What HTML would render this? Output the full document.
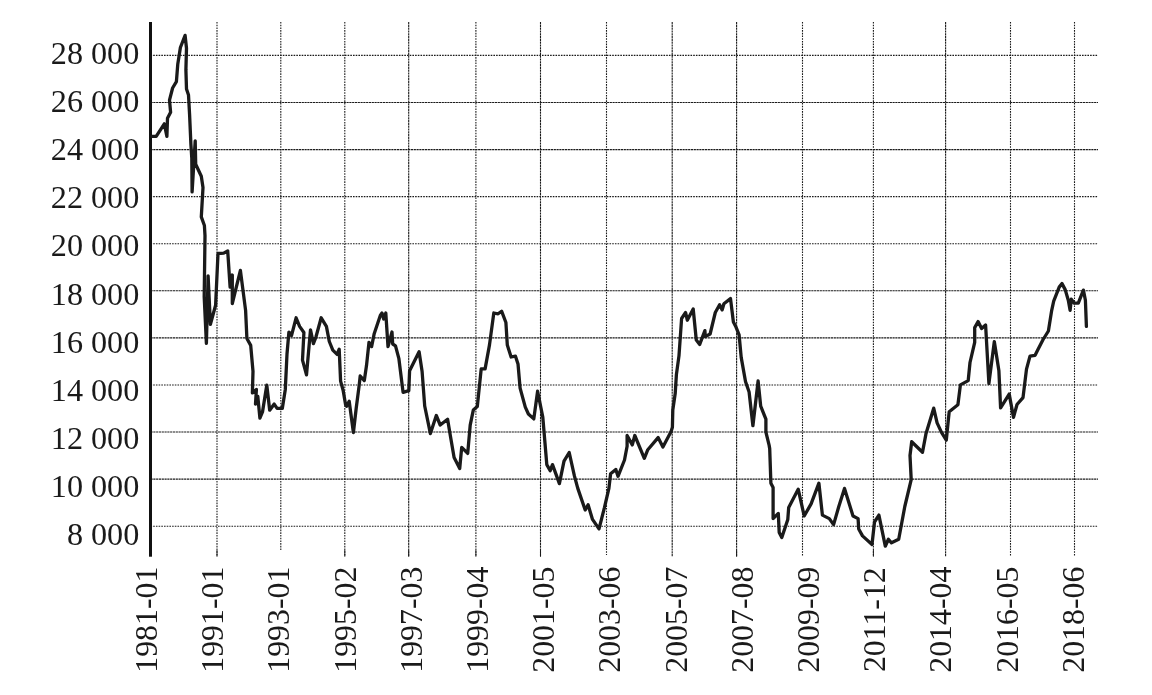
<!DOCTYPE html><html><head><meta charset="utf-8"><title>Chart</title><style>html,body{margin:0;padding:0;background:#fff;width:1152px;height:695px;overflow:hidden;}svg{display:block;position:absolute;left:0;top:0;}text{font-family:"Liberation Serif",serif;}</style></head><body>
<svg width="1152" height="695" viewBox="0 0 1152 695">
<g stroke="#1a1a1a" stroke-width="1.1" fill="none">
<line x1="150.5" y1="55.4" x2="1098" y2="55.4" stroke-dasharray="1.6 1.1"/>
<line x1="150.5" y1="102.5" x2="1098" y2="102.5" stroke-dasharray="2.2 0.6"/>
<line x1="150.5" y1="149.6" x2="1098" y2="149.6" stroke-dasharray="2.2 0.6"/>
<line x1="150.5" y1="196.6" x2="1098" y2="196.6" stroke-dasharray="1.6 1.1"/>
<line x1="150.5" y1="243.7" x2="1098" y2="243.7" stroke-dasharray="1.6 1.1"/>
<line x1="150.5" y1="290.8" x2="1098" y2="290.8" stroke-dasharray="2.2 0.6"/>
<line x1="150.5" y1="337.9" x2="1098" y2="337.9" stroke-dasharray="2.2 0.6"/>
<line x1="150.5" y1="385.0" x2="1098" y2="385.0" stroke-dasharray="1.6 1.1"/>
<line x1="150.5" y1="432.0" x2="1098" y2="432.0" stroke-dasharray="2.2 0.6"/>
<line x1="150.5" y1="479.1" x2="1098" y2="479.1" stroke-dasharray="2.2 0.6"/>
<line x1="150.5" y1="526.2" x2="1098" y2="526.2" stroke-dasharray="1.6 1.1"/>
<line x1="217.0" y1="22" x2="217.0" y2="556.5" stroke-dasharray="1.6 1.1"/>
<line x1="280.8" y1="22" x2="280.8" y2="550" stroke-dasharray="1.6 1.1"/>
<line x1="344.8" y1="22" x2="344.8" y2="556.5" stroke-dasharray="1.6 1.1"/>
<line x1="408.7" y1="22" x2="408.7" y2="556.5" stroke-dasharray="2.2 0.6"/>
<line x1="475.9" y1="22" x2="475.9" y2="556.5" stroke-dasharray="1.6 1.1"/>
<line x1="540.5" y1="22" x2="540.5" y2="556.5" stroke-dasharray="2.2 0.6"/>
<line x1="606.5" y1="22" x2="606.5" y2="555" stroke-dasharray="1.6 1.1"/>
<line x1="672.2" y1="22" x2="672.2" y2="556.5" stroke-dasharray="2.2 0.6"/>
<line x1="736.6" y1="22" x2="736.6" y2="556.5" stroke-dasharray="2.2 0.6"/>
<line x1="802.5" y1="22" x2="802.5" y2="556" stroke-dasharray="1.6 1.1"/>
<line x1="873.4" y1="22" x2="873.4" y2="556.5" stroke-dasharray="1.6 1.1"/>
<line x1="945.6" y1="22" x2="945.6" y2="556.5" stroke-dasharray="2.2 0.6"/>
<line x1="1010.5" y1="22" x2="1010.5" y2="556" stroke-dasharray="1.6 1.1"/>
<line x1="1074.5" y1="22" x2="1074.5" y2="556" stroke-dasharray="1.6 1.1"/>
</g>
<g stroke="#1a1a1a" stroke-width="1">
<line x1="217.0" y1="550" x2="217.0" y2="556.7"/>
<line x1="344.8" y1="550" x2="344.8" y2="556.7"/>
<line x1="408.7" y1="550" x2="408.7" y2="556.7"/>
<line x1="475.9" y1="550" x2="475.9" y2="556.7"/>
<line x1="540.5" y1="550" x2="540.5" y2="556.7"/>
<line x1="736.6" y1="550" x2="736.6" y2="556.7"/>
<line x1="873.4" y1="550" x2="873.4" y2="556.7"/>
</g>
<rect x="149.0" y="22" width="3" height="534.7" fill="#111"/>
<polyline points="151.9,136.4 156.2,136.4 164.3,123.8 166.9,136.4 167.5,118.3 170.6,112.2 169.5,100.1 172.6,88.0 176.4,81.6 177.8,63.9 180.4,47.5 185.1,35.4 186.5,48.3 185.9,69.9 186.5,88.9 188.5,95.0 189.6,114.8 190.9,144.4 191.8,158.2 192.1,191.9 195.2,140.9 195.7,164.2 201.3,176.3 203.0,187.5 201.3,216.9 204.4,225.5 205.0,235.7 204.2,296.6 206.4,343.3 208.1,275.9 210.4,324.3 215.6,305.3 218.0,253.5 223.7,253.1 227.7,250.9 230.1,287.1 232.3,275.0 232.3,303.5 240.4,270.4 245.6,310.4 246.9,338.5 250.7,345.4 253.0,371.3 252.4,392.9 256.4,389.4 255.5,404.1 257.8,396.4 259.9,418.0 262.5,411.9 266.8,385.1 269.7,410.2 274.2,404.1 277.1,408.4 282.3,408.4 285.3,389.4 287.0,354.0 288.9,332.1 291.5,335.6 296.1,317.8 299.6,326.4 303.9,332.5 302.5,360.1 306.5,374.8 310.5,329.9 313.4,343.7 316.0,336.8 321.2,317.8 326.4,326.4 329.3,341.5 332.8,350.1 337.1,354.4 339.2,349.2 340.6,381.1 343.1,390.2 345.6,404.8 346.6,406.3 349.2,401.3 353.4,432.5 356.2,408.3 359.2,385.1 360.2,376.0 364.3,380.6 366.5,365.6 369.0,342.3 371.6,346.6 374.2,333.7 380.3,315.5 382.0,313.0 383.7,319.0 385.8,313.0 388.0,346.6 392.0,332.0 392.7,344.0 395.5,345.8 398.9,358.7 403.1,392.4 408.8,390.7 409.6,370.8 419.1,351.8 422.1,371.5 424.7,406.0 430.4,433.6 436.3,415.5 440.2,425.0 447.6,419.2 450.1,434.3 454.1,457.5 459.7,468.5 461.7,447.4 467.7,453.4 470.2,425.2 473.3,410.1 477.3,406.6 481.2,368.9 485.1,368.9 489.5,344.9 493.8,313.0 498.1,313.8 501.6,311.2 505.9,322.5 507.3,344.9 511.1,357.0 515.4,356.1 518.0,363.9 520.1,388.1 525.3,407.1 528.4,414.0 533.8,418.9 537.6,391.2 542.8,417.1 546.8,464.6 550.2,470.7 552.5,464.6 559.4,483.6 564.0,461.2 569.2,452.5 574.4,475.9 577.8,488.4 585.2,510.0 588.1,504.8 592.5,519.4 599.0,528.9 604.5,507.4 608.9,488.4 610.6,473.7 615.8,469.4 618.0,476.3 624.5,460.0 627.1,446.2 627.1,435.5 632.3,444.9 634.8,435.5 644.3,458.3 647.8,449.7 658.1,437.6 662.9,447.1 671.1,431.6 672.4,427.3 672.8,410.0 675.2,393.6 676.4,374.6 679.0,355.6 681.6,318.5 685.6,312.5 687.3,320.2 693.2,309.0 696.3,340.1 699.7,344.4 704.9,330.6 705.3,336.6 710.1,334.0 715.3,312.5 719.6,304.7 722.2,309.9 723.9,303.8 730.5,298.6 733.4,322.0 736.0,327.1 739.1,334.9 741.2,357.4 745.5,381.5 749.1,392.0 752.9,425.7 758.1,381.0 760.7,406.2 765.9,419.2 765.9,432.1 769.1,445.1 769.7,448.6 770.9,483.2 773.1,487.5 773.1,518.6 778.3,513.4 779.2,532.4 781.8,537.6 787.8,519.4 788.7,507.4 798.2,489.2 804.2,516.0 811.1,503.9 818.9,483.2 822.4,515.1 829.3,518.6 833.6,524.6 838.8,506.5 844.5,488.4 853.0,516.0 858.1,518.6 858.7,529.0 862.5,535.9 872.0,544.5 874.5,522.0 878.9,515.1 885.3,546.2 888.4,539.3 891.5,542.8 898.7,539.3 904.8,506.5 911.2,479.7 910.0,455.5 911.7,441.7 922.5,452.3 925.9,434.1 933.7,408.2 937.1,422.9 941.5,432.4 946.3,440.2 949.2,411.7 957.9,404.8 960.4,384.9 968.2,380.6 970.0,362.5 974.7,342.3 974.7,327.6 978.1,321.6 981.6,328.5 985.6,325.0 988.9,383.5 994.3,341.6 998.9,370.8 1000.6,407.9 1009.2,394.1 1013.5,417.4 1017.0,404.5 1023.0,397.6 1026.5,369.1 1030.0,356.1 1035.1,355.3 1037.7,350.1 1043.1,339.5 1048.4,331.0 1051.7,310.3 1053.7,301.2 1059.2,287.1 1062.0,283.6 1065.2,289.6 1068.3,300.2 1070.1,310.3 1071.3,299.2 1074.3,303.2 1078.3,303.2 1083.4,290.1 1085.4,300.2 1086.4,326.4" fill="none" stroke="#1a1a1a" stroke-width="3.3" stroke-linejoin="round" stroke-linecap="round"/>
</svg>
<svg width="1152" height="695" viewBox="0 0 1152 695" style="will-change:transform">
<g font-family="Liberation Serif" fill="#1a1a1a">
<text x="139.3" y="63.80" font-size="32.2" text-anchor="end">28 000</text>
<text x="139.3" y="111.94" font-size="32.2" text-anchor="end">26 000</text>
<text x="139.3" y="160.08" font-size="32.2" text-anchor="end">24 000</text>
<text x="139.3" y="208.22" font-size="32.2" text-anchor="end">22 000</text>
<text x="139.3" y="256.36" font-size="32.2" text-anchor="end">20 000</text>
<text x="139.3" y="304.50" font-size="32.2" text-anchor="end">18 000</text>
<text x="139.3" y="352.64" font-size="32.2" text-anchor="end">16 000</text>
<text x="139.3" y="400.78" font-size="32.2" text-anchor="end">14 000</text>
<text x="139.3" y="448.92" font-size="32.2" text-anchor="end">12 000</text>
<text x="139.3" y="497.06" font-size="32.2" text-anchor="end">10 000</text>
<text x="139.3" y="545.20" font-size="32.2" text-anchor="end">8 000</text>
<text transform="translate(156.90,619.7) rotate(-90)" font-size="31.8" text-anchor="middle">1981-01</text>
<text transform="translate(223.11,619.7) rotate(-90)" font-size="31.8" text-anchor="middle">1991-01</text>
<text transform="translate(289.32,619.7) rotate(-90)" font-size="31.8" text-anchor="middle">1993-01</text>
<text transform="translate(355.53,619.7) rotate(-90)" font-size="31.8" text-anchor="middle">1995-02</text>
<text transform="translate(421.74,619.7) rotate(-90)" font-size="31.8" text-anchor="middle">1997-03</text>
<text transform="translate(487.95,619.7) rotate(-90)" font-size="31.8" text-anchor="middle">1999-04</text>
<text transform="translate(554.16,619.7) rotate(-90)" font-size="31.8" text-anchor="middle">2001-05</text>
<text transform="translate(620.37,619.7) rotate(-90)" font-size="31.8" text-anchor="middle">2003-06</text>
<text transform="translate(686.58,619.7) rotate(-90)" font-size="31.8" text-anchor="middle">2005-07</text>
<text transform="translate(752.79,619.7) rotate(-90)" font-size="31.8" text-anchor="middle">2007-08</text>
<text transform="translate(819.00,619.7) rotate(-90)" font-size="31.8" text-anchor="middle">2009-09</text>
<text transform="translate(885.21,619.7) rotate(-90)" font-size="31.8" text-anchor="middle">2011-12</text>
<text transform="translate(951.42,619.7) rotate(-90)" font-size="31.8" text-anchor="middle">2014-04</text>
<text transform="translate(1017.63,619.7) rotate(-90)" font-size="31.8" text-anchor="middle">2016-05</text>
<text transform="translate(1083.84,619.7) rotate(-90)" font-size="31.8" text-anchor="middle">2018-06</text>
</g>
</svg>
</body></html>
